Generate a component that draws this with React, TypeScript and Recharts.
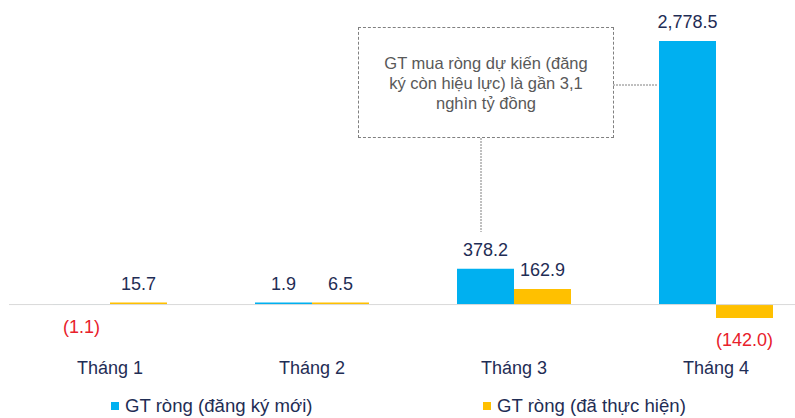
import { BarChart, Bar, XAxis, YAxis, ReferenceLine, LabelList } from "recharts";

const months = ["Tháng 1", "Tháng 2", "Tháng 3", "Tháng 4"];
const newReg = [-1.1, 1.9, 378.2, 2778.5];
const executed = [15.7, 6.5, 162.9, -142.0];

const seriesNames = ["GT ròng (đăng ký mới)", "GT ròng (đã thực hiện)"];
const seriesColors = ["#00b0f0", "#ffc000"];

const noteLines = ["GT mua ròng dự kiến (đăng", "ký còn hiệu lực) là gần 3,1", "nghìn tỷ đồng"];

const NAVY = "#1f2d55";
const RED = "#e8202a";
const FONT = "'Liberation Sans', Arial, sans-serif";

const data = months.map((m, i) => ({ month: m, newReg: newReg[i], executed: executed[i] }));

const fmt = (v: number) => {
    const s = Math.abs(v).toLocaleString("en-US", { minimumFractionDigits: 1, maximumFractionDigits: 1 });
    return v < 0 ? `(${s})` : s;
};

// tiny positive bars still show as a thin coloured strip on the axis
const minSize = (v: number) => (v > 0 ? 2 : 0);

const renderLabel = (props: any) => {
    const { x, y, width, height, value } = props;
    const neg = value < 0;
    const top = Math.min(y, y + height);
    const bottom = Math.max(y, y + height);
    return (
        <text
            x={x + width / 2}
            y={neg ? bottom + 22 : top - 19}
            textAnchor="middle"
            dominantBaseline="central"
            fill={neg ? RED : NAVY}
            fontSize={18}
            fontFamily={FONT}
        >
            {fmt(value)}
        </text>
    );
};

export default function App() {
    return (
        <div style={{ position: "absolute", left: 0, top: 0, width: 795, height: 418, overflow: "hidden", background: "#fff", fontFamily: FONT }}>
            <BarChart
                width={830}
                height={418}
                data={data}
                margin={{ top: 20, right: 13, left: 9, bottom: 36 }}
                barGap={0}
                barSize={57}
            >
                <XAxis
                    dataKey="month"
                    axisLine={false}
                    tickLine={false}
                    tickSize={0}
                    tickMargin={9}
                    height={30}
                    tick={{ fill: NAVY, fontSize: 18, fontFamily: FONT }}
                />
                <YAxis hide domain={[-500, 3000]} />
                <ReferenceLine y={0} stroke="#d9d9d9" strokeWidth={1} />
                <Bar dataKey="newReg" fill={seriesColors[0]} minPointSize={minSize} isAnimationActive={false}>
                    <LabelList dataKey="newReg" content={renderLabel} />
                </Bar>
                <Bar dataKey="executed" fill={seriesColors[1]} minPointSize={minSize} isAnimationActive={false}>
                    <LabelList dataKey="executed" content={renderLabel} />
                </Bar>
            </BarChart>

            {/* annotation box */}
            <div
                style={{
                    position: "absolute",
                    left: 358,
                    top: 27,
                    width: 254,
                    height: 109,
                    border: "1px dashed #808080",
                    display: "flex",
                    flexDirection: "column",
                    justifyContent: "center",
                    alignItems: "center",
                    color: "#595959",
                    fontSize: 16.5,
                    lineHeight: "20px",
                    textAlign: "center",
                }}
            >
                {noteLines.map((l) => (
                    <div key={l}>{l}</div>
                ))}
            </div>
            <svg style={{ position: "absolute", left: 0, top: 0 }} width={795} height={418}>
                <line x1={613} y1={85} x2={657} y2={85} stroke="#808080" strokeWidth={1} strokeDasharray="2 1" />
                <line x1={481} y1={138} x2={481} y2={232} stroke="#808080" strokeWidth={1} strokeDasharray="2 1" />
            </svg>

            {/* legend */}
            {seriesNames.map((name, i) => (
                <div
                    key={name}
                    style={{
                        position: "absolute",
                        left: i === 0 ? 111 : 483,
                        top: 395,
                        display: "flex",
                        alignItems: "center",
                        color: NAVY,
                        fontSize: 18.6,
                        whiteSpace: "nowrap",
                    }}
                >
                    <span style={{ display: "inline-block", width: 8, height: 8, background: seriesColors[i], marginRight: 6 }} />
                    {name}
                </div>
            ))}
        </div>
    );
}
